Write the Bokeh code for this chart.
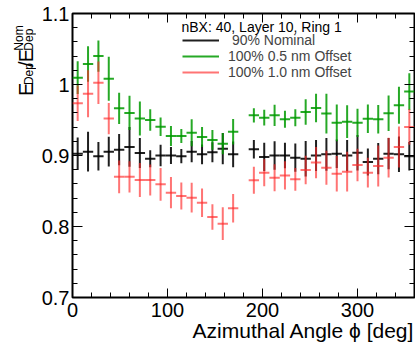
from math import pi
import numpy as np
from bokeh.plotting import figure
from bokeh.layouts import row
from bokeh.models import (ColumnDataSource, LinearAxis, FixedTicker, Label, Legend,
                          LegendItem, Range1d, PrintfTickFormatter, Title)
from bokeh.embed import file_html
from bokeh.resources import INLINE

# ---------------- data ----------------
phi = [5.45, 16.36, 27.27, 38.18, 49.09, 60.0, 70.91, 81.82, 92.73, 103.64, 114.55,
       125.45, 136.36, 147.27, 158.18, 169.09, 190.91, 201.82, 212.73, 223.64, 234.55,
       245.45, 256.36, 267.27, 278.18, 289.09, 300.0, 310.91, 321.82, 332.73, 343.64, 354.55]
bin_half_width = 5.45

nominal_90 = [0.9025, 0.9054, 0.899, 0.9054, 0.9082, 0.912, 0.9035, 0.8955, 0.900, 0.900, 0.899,
              0.9054, 0.9016, 0.9045, 0.9096, 0.9016, 0.9087, 0.898, 0.900, 0.900, 0.897,
              0.8955, 0.900, 0.9016, 0.9025, 0.900, 0.904, 0.891, 0.8955, 0.9025, 0.9016, 0.899]
nominal_90_err = [0.023, 0.028, 0.020, 0.021, 0.022, 0.028, 0.021, 0.012, 0.015, 0.012, 0.010,
                  0.015, 0.014, 0.014, 0.022, 0.018, 0.013, 0.020, 0.020, 0.018, 0.020,
                  0.025, 0.022, 0.023, 0.020, 0.022, 0.025, 0.019, 0.022, 0.022, 0.025, 0.020]

offset_05 = [1.0096, 1.029, 1.040, 1.008, 0.9665, 0.960, 0.952, 0.950, 0.9406, 0.9275, 0.9275,
             0.932, 0.926, 0.922, 0.9166, 0.9335, 0.9566, 0.9533, 0.9566, 0.951, 0.9533,
             0.9613, 0.967, 0.959, 0.946, 0.9476, 0.946, 0.9518, 0.951, 0.9594, 0.9707, 0.990]
offset_05_err = [0.023, 0.025, 0.022, 0.031, 0.022, 0.024, 0.024, 0.015, 0.013, 0.014, 0.010,
                 0.019, 0.014, 0.014, 0.015, 0.018, 0.010, 0.011, 0.015, 0.012, 0.012,
                 0.018, 0.020, 0.028, 0.026, 0.023, 0.020, 0.020, 0.020, 0.025, 0.026, 0.026]

offset_10 = [0.9735, 0.987, 1.0025, 0.952, 0.870, 0.870, 0.8655, 0.8655, 0.8594, 0.8476, 0.843,
             0.8406, 0.8335, 0.8134, 0.804, 0.8256, 0.865, 0.8758, 0.8687, 0.872, 0.8665,
             0.8796, 0.890, 0.8828, 0.8744, 0.8772, 0.8866, 0.8758, 0.8852, 0.897, 0.912, 0.940]
offset_10_err = [0.025, 0.033, 0.030, 0.022, 0.023, 0.022, 0.024, 0.022, 0.023, 0.022, 0.019,
                 0.021, 0.020, 0.018, 0.023, 0.020, 0.019, 0.019, 0.019, 0.020, 0.016,
                 0.020, 0.022, 0.024, 0.025, 0.028, 0.023, 0.021, 0.029, 0.028, 0.029, 0.025]

series_labels = ["\u00a090% Nominal", "100% 0.5 nm Offset", "100% 1.0 nm Offset"]
legend_header = "nBX: 40, Layer 10, Ring 1"
x_ticks = [0, 100, 200, 300]
y_ticks = [0.7, 0.8, 0.9, 1.0, 1.1]
x_title = "Azimuthal Angle \u03d5 [deg]"

FONT = "Liberation Sans"
TITLE_W = 36

# ---------------- main figure ----------------
p = figure(width=415 - TITLE_W, height=344, x_range=Range1d(0, 360), y_range=Range1d(0.7, 1.1),
           output_backend="svg", toolbar_location=None,
           x_axis_type=None, y_axis_type=None,
           min_border_left=72 - TITLE_W, min_border_right=1, min_border_top=13,
           min_border_bottom=47)
p.grid.visible = False
p.outline_line_color = "black"
p.outline_line_width = 2
p.background_fill_color = "white"
p.border_fill_color = "white"

xticker = FixedTicker(ticks=x_ticks, minor_ticks=list(range(0, 361, 20)))
yticker = FixedTicker(ticks=y_ticks, minor_ticks=[round(v, 2) for v in np.arange(0.70, 1.101, 0.02)])


def make_axis(ticker, major_in, show_labels):
    ax = LinearAxis(ticker=ticker, axis_line_color=None,
                    major_tick_in=major_in, major_tick_out=0,
                    minor_tick_in=5, minor_tick_out=0,
                    major_tick_line_color="black", minor_tick_line_color="black",
                    major_tick_line_width=1, minor_tick_line_width=1)
    if show_labels:
        ax.major_label_text_font = FONT
        ax.major_label_text_font_size = "20px"
        ax.major_label_text_color = "black"
        ax.formatter = PrintfTickFormatter(format="%g")
    else:
        ax.major_label_text_font_size = "0px"
        ax.major_label_text_color = None
        ax.major_label_standoff = 0
    return ax


xb = make_axis(xticker, 9, True)
xb.major_label_standoff = 5
p.add_layout(xb, "below")

p.add_layout(Title(text=x_title, align="right", text_font=FONT, text_font_size="21px",
                   text_font_style="normal", text_color="black", standoff=-5), "below")

yl = make_axis(yticker, 10, True)
yl.major_label_standoff = 3
p.add_layout(yl, "left")
p.add_layout(make_axis(xticker, 9, False), "above")
p.add_layout(make_axis(yticker, 10, False), "right")

# ---------------- data marks ----------------
colors = ["black", "#009a00", "#ff2a2a"]
alphas = [0.88, 0.85, 0.65]
values = [nominal_90, offset_05, offset_10]
errors = [nominal_90_err, offset_05_err, offset_10_err]
items = []
for lab, col, a, v, e in zip(series_labels, colors, alphas, values, errors):
    ph = np.array(phi)
    vv = np.array(v)
    ee = np.array(e)
    src = ColumnDataSource(dict(phi=ph, lo=ph - bin_half_width, hi=ph + bin_half_width,
                                val=vv, ylo=vv - ee, yhi=vv + ee))
    h = p.segment(x0="lo", x1="hi", y0="val", y1="val", source=src,
                  line_color=col, line_alpha=a, line_width=2)
    p.segment(x0="phi", x1="phi", y0="ylo", y1="yhi", source=src,
              line_color=col, line_alpha=a, line_width=2)
    items.append(LegendItem(label=lab, renderers=[h]))


def dx(px):
    return (px - 72) * 360.0 / 342.0


def dy(py):
    return 1.1 - (py - 13) * 0.4 / 284.0


legend = Legend(items=items, location=(110, 217),
                label_text_font=FONT, label_text_font_size="14px",
                glyph_width=37, glyph_height=14, label_height=14, label_standoff=9,
                spacing=-1, padding=0, margin=0,
                border_line_color=None, background_fill_alpha=0)
p.add_layout(legend)
p.add_layout(Label(x=dx(181), y=dy(26), text=legend_header, text_align="left",
                   text_baseline="middle", text_font=FONT, text_font_size="14px",
                   text_color="black"))

# ---------------- y title (separate narrow panel, pixel coordinates) ----------------
t = figure(width=TITLE_W, height=344, x_range=Range1d(0, TITLE_W), y_range=Range1d(344, 0),
           output_backend="svg", toolbar_location=None,
           x_axis_type=None, y_axis_type=None,
           min_border_left=0, min_border_right=0, min_border_top=0, min_border_bottom=0)
t.grid.visible = False
t.outline_line_color = None
t.background_fill_color = "white"
t.border_fill_color = "white"

pieces = [("E", "20px", 25.0, 100.0),
          ("Dep", "12px", 28.0, 86.7),
          ("/", "20px", 25.0, 64.7),
          ("E", "20px", 25.0, 59.1),
          ("Nom", "12px", 18.5, 45.0),
          ("Dep", "12px", 28.0, 45.0)]
for txt, fs, bx, by in pieces:
    t.add_layout(Label(x=bx, y=by, text=txt, angle=pi / 2,
                       text_align="left", text_baseline="alphabetic",
                       text_font=FONT, text_font_size=fs, text_color="black"))

layout = row(t, p)
open("out.html", "w").write(file_html(layout, INLINE))
